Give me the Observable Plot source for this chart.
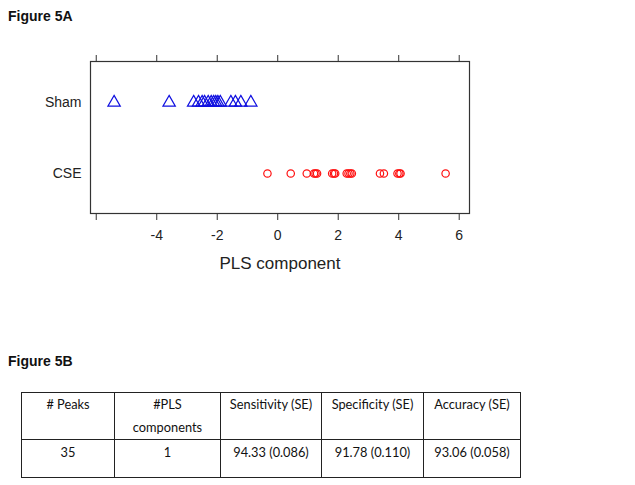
<!DOCTYPE html>
<html><head><meta charset="utf-8">
<script src="https://cdn.jsdelivr.net/npm/d3@7"></script>
<script src="https://cdn.jsdelivr.net/npm/@observablehq/plot@0.6"></script>
<style>
body{margin:0;background:#fff;width:635px;height:485px;position:relative;overflow:hidden;font-family:Arial,"Liberation Sans",sans-serif;}
.fig{position:absolute;left:8px;font-weight:bold;font-size:14px;color:#111;}
#chart{position:absolute;left:0;top:30px;}
table{position:absolute;left:21px;top:392px;border-collapse:collapse;font-family:Lato,"Open Sans",sans-serif;font-size:12.8px;color:#111;}
td{border:1px solid #222;text-align:center;vertical-align:top;padding:0;line-height:23px;}
</style></head>
<body>
<div class="fig" style="top:8px">Figure 5A</div>
<div id="chart"></div>
<div class="fig" style="top:353px">Figure 5B</div>
<table id="tbl"></table>
<script>
const groups = ["Sham", "CSE"];
const shamValues = [-5.41, -3.59, -2.78, -2.62, -2.5, -2.42, -2.3, -2.2, -2.12, -2.05, -1.98, -1.9, -1.55, -1.4, -1.22, -0.89];
const cseValues = [-0.34, 0.43, 0.96, 1.2, 1.25, 1.3, 1.8, 1.86, 1.9, 2.28, 2.34, 2.4, 2.45, 3.38, 3.51, 3.96, 4.02, 4.06, 5.55];
const xTicks = [-6, -4, -2, 0, 2, 4, 6];
const xTickLabels = ["", "-4", "-2", "0", "2", "4", "6"];
const xLabel = "PLS component";
const tableHeader = [["# Peaks"], ["#PLS", "components"], ["Sensitivity (SE)"], ["Specificity (SE)"], ["Accuracy (SE)"]];
const tableRow = ["35", "1", "94.33 (0.086)", "91.78 (0.110)", "93.06 (0.058)"];
const colWidths = [92, 105, 100, 101, 96];

const data = [
  ...shamValues.map(v => ({group: "Sham", value: v})),
  ...cseValues.map(v => ({group: "CSE", value: v}))
];

const chart = Plot.plot({
  width: 635, height: 260,
  marginLeft: 90, marginRight: 166, marginTop: 31, marginBottom: 77,
  style: {fontFamily: "Arial, 'Liberation Sans', sans-serif", fontSize: "14px", color: "#222", background: "white"},
  x: {domain: [-6.19, 6.34]},
  y: {domain: groups, type: "point", padding: 0.57},
  marks: [
    Plot.frame({stroke: "#333", strokeWidth: 1.2}),
    Plot.axisX({anchor: "bottom", ticks: xTicks, tickFormat: (d) => xTickLabels[xTicks.indexOf(d)], tickSize: 7, tickPadding: 10, label: null, fontSize: 14, stroke: "#333"}),
    Plot.axisX({anchor: "top", ticks: xTicks, tickFormat: () => "", tickSize: 7, label: null, stroke: "#333"}),
    Plot.axisY({tickSize: 0, tickPadding: 9, label: null, fontSize: 14}),
    Plot.dot(data.filter(d => d.group === "Sham"), {x: "value", y: "group", symbol: "triangle", r: 4.6, stroke: "#1010e0", strokeWidth: 1.2, fill: "none"}),
    Plot.dot(data.filter(d => d.group === "CSE"), {x: "value", y: "group", symbol: "circle", r: 3.7, stroke: "#ff1010", strokeWidth: 1.2, fill: "none"}),
    Plot.text([xLabel], {text: d => d, frameAnchor: "bottom", dy: 55, fontSize: 17, fill: "#222"})
  ]
});
document.getElementById("chart").appendChild(chart);

const tbl = document.getElementById("tbl");
const tr1 = document.createElement("tr");
tableHeader.forEach((lines, i) => {
  const td = document.createElement("td");
  td.style.width = colWidths[i] + "px";
  td.style.height = "44px";
  td.innerHTML = lines.join("<br>");
  tr1.appendChild(td);
});
tbl.appendChild(tr1);
const tr2 = document.createElement("tr");
tableRow.forEach((v, i) => {
  const td = document.createElement("td");
  td.style.height = "36px";
  td.style.paddingTop = "1px";
  td.textContent = v;
  tr2.appendChild(td);
});
tbl.appendChild(tr2);
</script>
</body></html>
